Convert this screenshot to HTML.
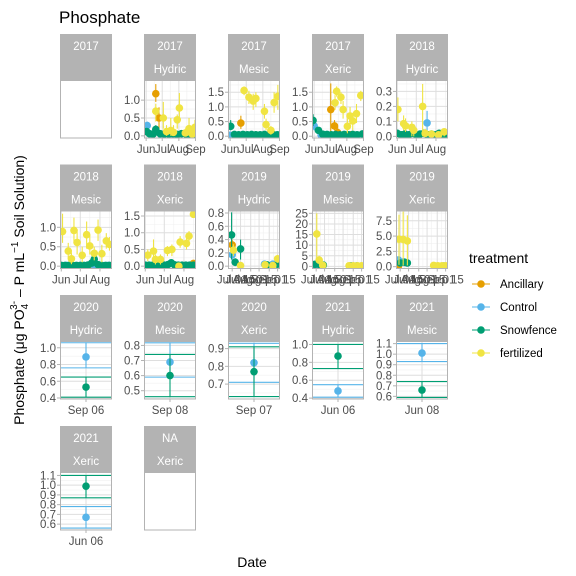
<!DOCTYPE html>
<html><head><meta charset="utf-8"><style>
body{margin:0;background:#fff;}
svg{display:block;font-family:"Liberation Sans",sans-serif;}
</style></head><body>
<svg id="chart" width="576" height="576" viewBox="0 0 576 576" xmlns="http://www.w3.org/2000/svg">
<text x="59" y="23" font-size="17" fill="#000">Phosphate</text>
<text x="252" y="567" font-size="14" fill="#000" text-anchor="middle">Date</text>
<text transform="translate(24,290) rotate(-90)" font-size="14" fill="#000" text-anchor="middle">Phosphate (μg PO<tspan font-size="10" dy="4">4</tspan><tspan font-size="10" dy="-11" dx="-6">3-</tspan><tspan dy="7"> – P mL</tspan><tspan font-size="10" dy="-6">−1</tspan><tspan dy="6"> Soil Solution)</tspan></text>
<g id="panels"></g>
<g id="legend"></g>
</svg>
<script>
// treatments
const treatments = ["Ancillary","Control","Snowfence","fertilized"];
const colors = ["#E69F00","#56B4E9","#009E73","#F0E442"];
// month ticks (day of year)
const monthTicks = [152,182,213,244];
const monthLabels = ["Jun","Jul","Aug","Sep"];
const ticks2019 = [182,196,213,227,244,258];
const labels2019 = ["Jul 01","Jul 15","Aug 01","Aug 15","Sep 01","Sep 15"];
// data: [x(doy), value, low, high]
const h17_anc = [[170,1.18,0.95,1.45],[176,0.5,0.2,0.8],[200,0.03,0,0.06]];
const h17_ctl = [[154,0.29,0.2,0.4],[160,0.05,0,0.1],[180,0.03,0,0.06],[200,0.03,0,0.06],[230,0.03,0,0.06]];
const h17_snow = [[153,0.12,0.02,0.2],[158,0.06,0,0.1],[165,0.05,0,0.1],[170,0.18,0.1,0.3],[178,0.06,0,0.12],[186,0.05,0,0.1],[194,0.05,0,0.1],[202,0.06,0,0.1],[210,0.04,0,0.08],[218,0.06,0,0.1],[226,0.05,0,0.1],[234,0.05,0,0.1],[242,0.06,0,0.1]];
const h17_fert = [[170,0.69,0.4,0.9],[184,0.5,0.2,0.95],[190,0.12,0,0.3],[198,0.15,0,0.5],[203,0.1,0,0.3],[210,0.45,0.2,0.6],[214,0.78,0.4,1.2],[225,0.08,0,0.2],[232,0.2,0,0.5],[238,0.05,0,0.1],[243,0.24,0.05,0.45]];
const m17_anc = [[172,0.45,0.25,0.7],[200,0.04,0,0.08],[230,0.04,0,0.08]];
const m17_ctl = [[152,0.03,0,0.06],[175,0.03,0,0.06],[200,0.03,0,0.06],[225,0.03,0,0.06],[242,0.03,0,0.06]];
const m17_snow = [[153,0.34,0.2,0.55],[160,0.06,0,0.1],[168,0.05,0,0.1],[176,0.06,0,0.1],[184,0.05,0,0.1],[192,0.06,0,0.1],[200,0.05,0,0.1],[208,0.05,0,0.1],[216,0.06,0,0.1],[224,0.05,0,0.1],[232,0.06,0,0.1],[240,0.05,0,0.1]];
const m17_fert = [[178,1.56,1.4,1.7],[187,1.33,1.1,1.55],[195,1.2,0.9,1.45],[200,1.29,1.0,1.5],[216,0.85,0.6,1.1],[219,0.4,0.2,0.6],[228,0.2,0.05,0.35],[234,1.15,0.8,1.5],[241,1.36,0.9,1.75]];
const x17_anc = [[183,0.91,0.05,1.8],[190,0.35,0.2,0.55],[196,0.12,0,0.3],[220,0.05,0,0.1]];
const x17_ctl = [[152,0.35,0.2,0.5],[165,0.04,0,0.08],[190,0.03,0,0.06],[215,0.03,0,0.06],[240,0.03,0,0.06]];
const x17_snow = [[150,0.54,0.35,0.75],[160,0.2,0.1,0.3],[168,0.07,0,0.12],[176,0.06,0,0.1],[184,0.05,0,0.1],[192,0.06,0,0.1],[200,0.05,0,0.1],[208,0.06,0,0.1],[216,0.05,0,0.1],[224,0.06,0,0.1],[232,0.05,0,0.1],[242,0.08,0,0.14]];
const x17_fert = [[191,1.14,0.9,1.4],[194,1.53,1.35,1.7],[202,1.33,1.1,1.5],[206,0.91,0.6,1.2],[214,0.34,0.1,0.6],[219,0.69,0.4,1.0],[224,0.52,0.2,0.8],[231,0.77,0.45,1.1],[239,1.39,1.2,1.55]];
const h18_anc = [[160,0.01,0,0.02],[200,0.01,0,0.02],[228,0.01,0,0.02]];
const h18_ctl = [[199,0.09,0.03,0.17],[195,0.02,0,0.04],[160,0.01,0,0.02]];
const h18_snow = [[152,0.02,0,0.04],[158,0.01,0,0.03],[164,0.015,0,0.03],[170,0.01,0,0.03],[176,0.02,0,0.04],[182,0.01,0,0.03],[188,0.015,0,0.03],[194,0.02,0,0.04],[200,0.01,0,0.03],[206,0.015,0,0.03],[212,0.01,0,0.03],[218,0.02,0,0.04],[226,0.01,0,0.03]];
const h18_fert = [[153,0.18,0.1,0.26],[162,0.085,0.04,0.14],[165,0.07,0.03,0.12],[175,0.06,0,0.1],[178,0.04,0,0.08],[192,0.2,0,0.35],[196,0.02,0,0.05],[206,0.015,0,0.03],[217,0.01,0,0.03],[226,0.03,0,0.05]];
const m18_anc = [[156,0.01,0,0.02],[200,0.01,0,0.02]];
const m18_ctl = [[160,0.02,0,0.04],[204,0.02,0,0.04],[226,0.02,0,0.04]];
const m18_snow = [[152,0.02,0,0.05],[158,0.02,0,0.05],[164,0.02,0,0.05],[170,0.02,0,0.05],[176,0.02,0,0.05],[182,0.02,0,0.05],[188,0.02,0,0.05],[194,0.03,0,0.06],[200,0.08,0,0.15],[204,0.18,0.08,0.28],[210,0.04,0,0.08],[216,0.02,0,0.05],[222,0.02,0,0.05],[228,0.02,0,0.05]];
const m18_fert = [[154,0.89,0.6,1.35],[163,0.39,0.2,0.6],[168,0.19,0.05,0.35],[172,0.92,0.6,1.25],[177,0.61,0.3,0.95],[185,0.28,0.1,0.5],[192,0.81,0.45,1.15],[197,0.52,0.3,0.8],[204,0.33,0.15,0.5],[210,0.93,0.65,1.2],[216,0.32,0.1,0.55],[223,0.65,0.45,0.85],[228,0.56,0.4,0.75]];
const x18_anc = [[180,0.02,0,0.04],[228,0.08,0.04,0.12]];
const x18_ctl = [[160,0.02,0,0.04],[200,0.02,0,0.04]];
const x18_snow = [[152,0.03,0,0.06],[158,0.03,0,0.06],[164,0.03,0,0.06],[170,0.03,0,0.06],[176,0.03,0,0.06],[182,0.03,0,0.06],[188,0.05,0,0.1],[193,0.1,0.03,0.18],[198,0.04,0,0.08],[204,0.03,0,0.06],[210,0.03,0,0.06],[216,0.03,0,0.06],[222,0.03,0,0.06],[228,0.03,0,0.06]];
const x18_fert = [[156,0.33,0.15,0.5],[165,0.45,0.2,0.8],[168,0.2,0.05,0.35],[176,0.2,0.05,0.35],[187,0.47,0.3,0.6],[194,0.5,0.3,0.65],[205,0.0,0,0.02],[207,0.72,0.55,0.9],[217,0.68,0.5,0.85],[221,0.9,0.75,1.05],[228,1.55,1.45,1.65]];
const h19_anc = [[182,0.32,0.2,0.4]];
const h19_ctl = [[182,0.17,0.05,0.3],[236,0.03,0,0.06],[250,0.03,0,0.06]];
const h19_snow = [[181,0.47,0.1,0.81],[187,0.06,0,0.12],[196,0.26,0.1,0.4],[240,0.02,0,0.04],[258,0.03,0,0.06]];
const h19_fert = [[184,0.24,0.15,0.33],[196,0.01,0,0.03],[237,0.02,0,0.04],[250,0.01,0,0.03],[258,0.11,0.05,0.17]];
const m19_anc = [[180,0.2,0,0.5]];
const m19_ctl = [[180,0.5,0,1.2],[240,0.2,0,0.4]];
const m19_snow = [[180,1.0,0,2.5],[188,0.8,0,1.8],[194,0.6,0,1.5],[240,0.2,0,0.5],[250,0.2,0,0.5]];
const m19_fert = [[183,15.3,3,25],[187,3,1,5],[193,0.5,0,1],[237,0.3,0,0.6],[244,0.3,0,0.6],[251,0.3,0,0.6],[258,0.3,0,0.6]];
const x19_anc = [[179,0.1,0,0.3]];
const x19_ctl = [[179,1.1,0.5,1.5],[188,0.8,0.3,1.2]];
const x19_snow = [[182,0.6,0.2,1.0],[190,0.7,0.3,1.1],[194,0.6,0.2,1.0],[240,0.1,0,0.3],[255,0.1,0,0.3]];
const x19_fert = [[180,4.5,0.3,8.5],[187,4.45,0.2,9],[194,4.2,0.2,8.4],[238,0.2,0,0.5],[245,0.15,0,0.4],[252,0.15,0,0.4],[258,0.15,0,0.4]];
// single-date panels: [value, low, high]
const h20_ctl = [0.89,0.76,1.06];
const h20_snow = [0.53,0.41,0.65];
const m20_ctl = [0.69,0.59,0.817];
const m20_snow = [0.6,0.46,0.74];
const x20_ctl = [0.82,0.71,0.93];
const x20_snow = [0.77,0.63,0.91];
const h21_ctl = [0.48,0.41,0.55];
const h21_snow = [0.87,0.73,1.0];
const m21_ctl = [1.01,0.93,1.1];
const m21_snow = [0.66,0.59,0.74];
const x21_ctl = [0.67,0.56,0.78];
const x21_snow = [0.99,0.87,1.1];

const NS="http://www.w3.org/2000/svg";
const colX=[60,144,228,312,396], W=52;
const stripTop=[34,164.5,295,426], PH=57.5;
const R=3.8;
const root=document.getElementById('panels');
function mk(tag,attrs,parent){const e=document.createElementNS(NS,tag);for(const k in attrs)e.setAttribute(k,attrs[k]);(parent||root).appendChild(e);return e;}

const panels=[
 {c:0,r:0,s1:"2017",s2:"",empty:true},
 {c:1,r:0,s1:"2017",s2:"Hydric",xd:[148,245],xt:monthTicks,xl:monthLabels,yd:[-0.06,1.55],yt:[0,0.5,1.0],yl:["0.0","0.5","1.0"],ser:[h17_anc,h17_ctl,h17_snow,h17_fert]},
 {c:2,r:0,s1:"2017",s2:"Mesic",xd:[148,245],xt:monthTicks,xl:monthLabels,yd:[-0.06,1.9],yt:[0,0.5,1,1.5],yl:["0.0","0.5","1.0","1.5"],ser:[m17_anc,m17_ctl,m17_snow,m17_fert]},
 {c:3,r:0,s1:"2017",s2:"Xeric",xd:[148,245],xt:monthTicks,xl:monthLabels,yd:[-0.06,1.9],yt:[0,0.5,1,1.5],yl:["0.0","0.5","1.0","1.5"],ser:[x17_anc,x17_ctl,x17_snow,x17_fert]},
 {c:4,r:0,s1:"2018",s2:"Hydric",xd:[150,232],xt:[152,182,213],xl:["Jun","Jul","Aug"],yd:[-0.011,0.373],yt:[0,0.1,0.2,0.3],yl:["0.0","0.1","0.2","0.3"],ser:[h18_anc,h18_ctl,h18_snow,h18_fert]},
 {c:0,r:1,s1:"2018",s2:"Mesic",xd:[150,232],xt:[152,182,213],xl:["Jun","Jul","Aug"],yd:[-0.06,1.42],yt:[0,0.5,1.0],yl:["0.0","0.5","1.0"],ser:[m18_anc,m18_ctl,m18_snow,m18_fert]},
 {c:1,r:1,s1:"2018",s2:"Xeric",xd:[150,232],xt:[152,182,213],xl:["Jun","Jul","Aug"],yd:[-0.07,1.65],yt:[0,0.5,1.0,1.5],yl:["0.0","0.5","1.0","1.5"],ser:[x18_anc,x18_ctl,x18_snow,x18_fert]},
 {c:2,r:1,s1:"2019",s2:"Hydric",xd:[175,262],xt:ticks2019,xl:labels2019,yd:[-0.035,0.83],yt:[0,0.2,0.4,0.6,0.8],yl:["0.0","0.2","0.4","0.6","0.8"],ser:[h19_anc,h19_ctl,h19_snow,h19_fert]},
 {c:3,r:1,s1:"2019",s2:"Mesic",xd:[175,262],xt:ticks2019,xl:labels2019,yd:[-1,26.1],yt:[0,5,10,15,20,25],yl:["0","5","10","15","20","25"],ser:[m19_anc,m19_ctl,m19_snow,m19_fert]},
 {c:4,r:1,s1:"2019",s2:"Xeric",xd:[175,262],xt:ticks2019,xl:labels2019,yd:[-0.3,9.1],yt:[0,2.5,5,7.5],yl:["0.0","2.5","5.0","7.5"],ser:[x19_anc,x19_ctl,x19_snow,x19_fert]},
 {c:0,r:2,s1:"2020",s2:"Hydric",single:"Sep 06",yd:[0.388,1.075],yt:[0.4,0.6,0.8,1.0],yl:["0.4","0.6","0.8","1.0"],one:[null,h20_ctl,h20_snow,null]},
 {c:1,r:2,s1:"2020",s2:"Mesic",single:"Sep 08",yd:[0.445,0.826],yt:[0.5,0.6,0.7,0.8],yl:["0.5","0.6","0.7","0.8"],one:[null,m20_ctl,m20_snow,null]},
 {c:2,r:2,s1:"2020",s2:"Xeric",single:"Sep 07",yd:[0.616,0.94],yt:[0.7,0.8,0.9],yl:["0.7","0.8","0.9"],one:[null,x20_ctl,x20_snow,null]},
 {c:3,r:2,s1:"2021",s2:"Hydric",single:"Jun 06",yd:[0.39,1.033],yt:[0.4,0.6,0.8,1.0],yl:["0.4","0.6","0.8","1.0"],one:[null,h21_ctl,h21_snow,null]},
 {c:4,r:2,s1:"2021",s2:"Mesic",single:"Jun 08",yd:[0.575,1.12],yt:[0.6,0.7,0.8,0.9,1.0,1.1],yl:["0.6","0.7","0.8","0.9","1.0","1.1"],one:[null,m21_ctl,m21_snow,null]},
 {c:0,r:3,s1:"2021",s2:"Xeric",single:"Jun 06",yd:[0.54,1.13],yt:[0.6,0.7,0.8,0.9,1.0,1.1],yl:["0.6","0.7","0.8","0.9","1.0","1.1"],one:[null,x21_ctl,x21_snow,null]},
 {c:1,r:3,s1:"NA",s2:"Xeric",empty:true}
];

panels.forEach(p=>{
  const x0=colX[p.c], st=stripTop[p.r], y0=st+46.5, y1=y0+PH;
  const g=mk('g',{});
  
  
  const strip=mk('rect',{x:x0,y:st,width:W,height:46.5,fill:'#b3b3b3'},g);
  
  
  const t1=mk('text',{x:x0+W/2,y:st+16,'font-size':11.5,fill:'#fff','text-anchor':'middle'},g);t1.textContent=p.s1;
  
  
  if(p.s2){const t2=mk('text',{x:x0+W/2,y:st+39,'font-size':11.5,fill:'#fff','text-anchor':'middle'},g);t2.textContent=p.s2;
    
    }
  if(p.empty){const b=mk('rect',{x:x0+0.5,y:y0,width:W-1,height:PH,fill:'none',stroke:'#b3b3b3'},g);
    
    return;}
  const ys=v=>y1-(v-p.yd[0])/(p.yd[1]-p.yd[0])*PH;
  const xs=p.single?(()=>x0+W/2):(v=>x0+(v-p.xd[0])/(p.xd[1]-p.xd[0])*W);
  const dy=p.yt[1]-p.yt[0];
  for(let v=p.yt[0]-dy/2;v<=p.yd[1];v+=dy){ if(v<p.yd[0])continue; mk('line',{x1:x0,x2:x0+W,y1:ys(v),y2:ys(v),stroke:'#f0f0f0','stroke-width':0.6},g);}
  if(!p.single){const dx=p.xt[1]-p.xt[0];for(let i=0;i<p.xt.length;i++){const v=p.xt[i]+dx/2;if(v<p.xd[1])mk('line',{x1:xs(v),x2:xs(v),y1:y0,y2:y1,stroke:'#f0f0f0','stroke-width':0.6},g);}
    const vm=p.xt[0]-dx/2;if(vm>p.xd[0])mk('line',{x1:xs(vm),x2:xs(vm),y1:y0,y2:y1,stroke:'#f0f0f0','stroke-width':0.6},g);}
  p.yt.forEach((v,i)=>{mk('line',{x1:x0,x2:x0+W,y1:ys(v),y2:ys(v),stroke:'#dedede','stroke-width':1},g);
    mk('line',{x1:x0-3,x2:x0,y1:ys(v),y2:ys(v),stroke:'#b3b3b3','stroke-width':1},g);
    const t=mk('text',{x:x0-4,y:ys(v)+4,'font-size':11.5,fill:'#4d4d4d','text-anchor':'end'},g);t.textContent=p.yl[i];
    
    });
  const xtv=p.single?[0]:p.xt, xtl=p.single?[p.single]:p.xl;
  xtv.forEach((v,i)=>{const X=xs(v);mk('line',{x1:X,x2:X,y1:y0,y2:y1,stroke:'#dedede','stroke-width':1},g);
    mk('line',{x1:X,x2:X,y1:y1,y2:y1+3,stroke:'#b3b3b3','stroke-width':1},g);
    const t=mk('text',{x:X,y:y1+15,'font-size':11.5,fill:'#4d4d4d','text-anchor':'middle'},g);t.textContent=xtl[i];
    
    });
  const clip='clip'+p.c+p.r;
  const cp=mk('clipPath',{id:clip},g);mk('rect',{x:x0,y:y0,width:W,height:PH},cp);
  const mg=mk('g',{'clip-path':'url(#'+clip+')'},g);
  if(p.single){
    p.one.forEach((d,k)=>{if(!d)return;const X=x0+W/2;
      mk('line',{x1:x0,x2:x0+W,y1:ys(d[1]),y2:ys(d[1]),stroke:colors[k],'stroke-width':1.1},mg);
      mk('line',{x1:x0,x2:x0+W,y1:ys(d[2]),y2:ys(d[2]),stroke:colors[k],'stroke-width':1.1},mg);
      mk('line',{x1:X,x2:X,y1:ys(d[1]),y2:ys(d[2]),stroke:colors[k],'stroke-width':1.1},mg);
      const c=mk('circle',{cx:X,cy:ys(d[0]),r:R,fill:colors[k]},mg);
      
      });
  } else {
    p.ser.forEach((arr,k)=>{arr.forEach(d=>{const X=xs(d[0]);
      mk('line',{x1:X,x2:X,y1:ys(d[2]),y2:ys(d[3]),stroke:colors[k],'stroke-width':1.1},mg);
      const c=mk('circle',{cx:X,cy:ys(d[1]),r:R,fill:colors[k]},mg);
      
      });});
  }
  const b=mk('rect',{x:x0+0.5,y:y0,width:W-1,height:PH,fill:'none',stroke:'#b3b3b3'},g);
  
  
});

const lg=document.getElementById('legend');
const lt=mk('text',{x:469,y:263,'font-size':14,fill:'#000'},lg);lt.textContent='treatment';


treatments.forEach((t,i)=>{const Y=284+i*23;
  const e=mk('g',{},lg);
  
  
  mk('line',{x1:472,x2:490,y1:Y,y2:Y,stroke:colors[i],'stroke-width':1.1},e);
  mk('circle',{cx:481,cy:Y,r:R,fill:colors[i]},e);
  const tx=mk('text',{x:500,y:Y+4,'font-size':11.5,fill:'#000'},e);tx.textContent=t;});
</script>
</body></html>
